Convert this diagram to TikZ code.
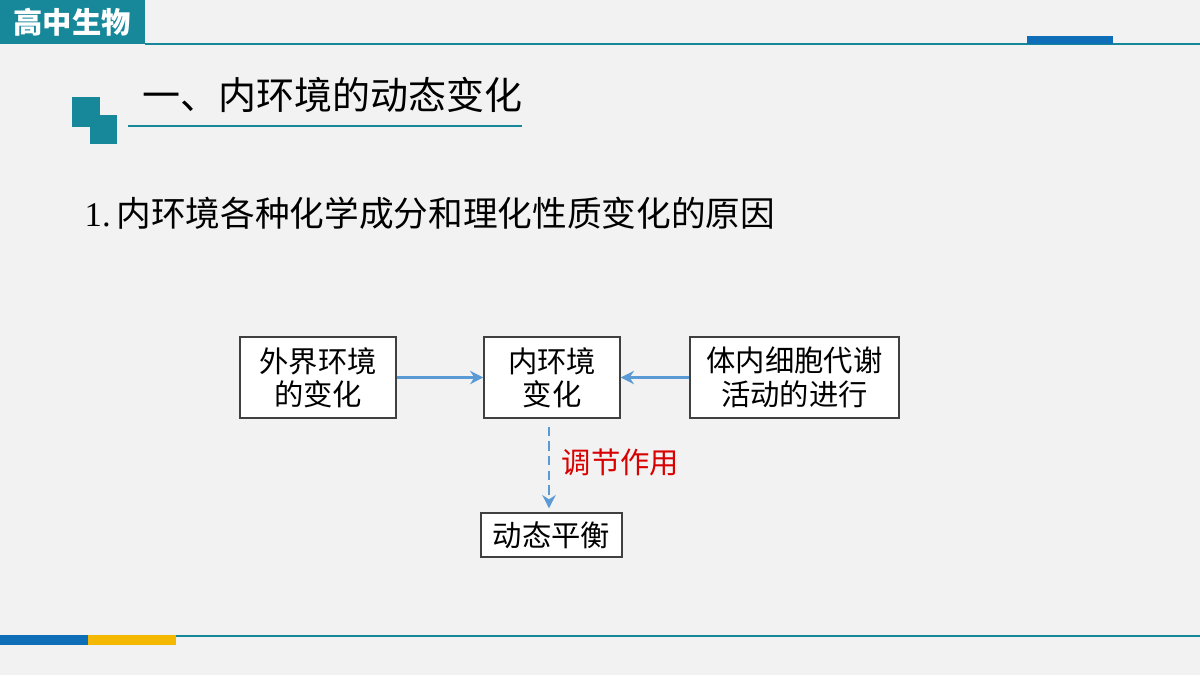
\documentclass[tikz,border=0pt]{standalone}
\usepackage{fontspec}
\setmainfont{Liberation Serif}
\newfontfamily\cjk{Noto Sans CJK SC}
\usetikzlibrary{arrows.meta}
\definecolor{teal1}{HTML}{17879A}
\definecolor{blue1}{HTML}{0E6EB8}
\definecolor{arr}{HTML}{5B9BD5}
\definecolor{yel}{HTML}{F5B800}
\tikzset{box/.style={draw=black!75,line width=0.9pt,fill=white,align=center,inner sep=0pt,font=\cjk\fontsize{22}{25}\selectfont},
 conn/.style={arr,line width=2.2pt,-{Stealth[length=10pt,width=10pt]}}}
\begin{document}
\begin{tikzpicture}[x=0.75pt,y=-0.75pt]
\useasboundingbox (0,0) rectangle (1200,675);
\fill[black!5] (0,0) rectangle (1200,675);
% header
\fill[teal1] (0,0) rectangle (145,44);
\node[text=white,font=\cjk\bfseries\fontsize{22}{24}\selectfont] (hd) at (72,22) {高中生物};
\draw[teal1,line width=0.8pt] (145,44) -- (1200,44);
\fill[blue1] (1027,36) rectangle (1113,44);
% title
\fill[teal1] (72,97) rectangle (100,127);
\fill[teal1] (90,115) rectangle (117,144);
\node[anchor=west,font=\cjk\fontsize{28.5}{32}\selectfont] (tt) at (138,95) {一、内环境的动态变化};
\draw[teal1,line width=0.8pt] (128,126) -- (522,126);
\node[anchor=west,font=\fontsize{26}{30}\selectfont] (h1) at (80,213) {1.\,{\cjk 内环境各种化学成分和理化性质变化的原因}};
% boxes
\node[box,minimum width=156*0.75pt,minimum height=81*0.75pt] (a) at (318,377.5) {外界环境\\的变化};
\node[box,minimum width=136*0.75pt,minimum height=81*0.75pt] (b) at (552,377.5) {内环境\\变化};
\node[box,minimum width=209*0.75pt,minimum height=81*0.75pt] (c) at (794.5,377.5) {体内细胞代谢\\活动的进行};
\node[box,minimum width=141*0.75pt,minimum height=44*0.75pt] (d) at (551.5,535) {动态平衡};
\draw[conn] (a) -- (b);
\draw[conn] (c) -- (b);
\draw[conn,dashed,dash pattern=on 7pt off 4pt] ([yshift=-6pt]b.south -| 549,0) -- ([yshift=3pt]d.north -| 549,0);
\node[anchor=west,text=red!85!black,font=\cjk\fontsize{22}{25}\selectfont] (lb) at (557,462) {调节作用};
% footer
\draw[teal1,line width=0.8pt] (0,636) -- (1200,636);
\fill[blue1] (0,635) rectangle (88,645);
\fill[yel] (88,635) rectangle (176,645);
\end{tikzpicture}
\end{document}
